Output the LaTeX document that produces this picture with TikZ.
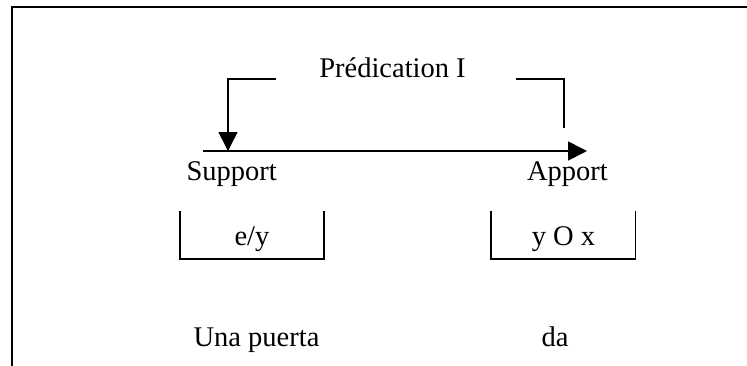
\documentclass[tikz,border=0pt]{standalone}
\usepackage{fontspec}
\setmainfont{Liberation Serif}
\usetikzlibrary{arrows.meta}
\begin{document}
\begin{tikzpicture}[x=1pt,y=-1pt,
  lbl/.style={anchor=base,inner sep=0pt,font=\fontsize{28.5}{34}\selectfont},
  ln/.style={line width=1.6pt},
  arr/.style={ln,-{Triangle[length=19pt,width=19pt]}}]
\useasboundingbox (0,0) rectangle (747,365);
\fill[white] (0,0) rectangle (747,365);
% frame (only top and left sides visible)
\coordinate (fb) at (12,366);
\coordinate (fc) at (12,7);
\coordinate (fr) at (748,7);
\draw[line width=2pt] (fb) -- (fc) -- (fr);
% title
\node[lbl] (pred) at (392.5,77) {Prédication I};
% left bracket with down arrow
\coordinate (la) at (276,79);
\coordinate (lb) at (228,79);
\coordinate (lc) at (228,151);
\draw[arr] (la) -- (lb) -- (lc);
% right bracket
\coordinate (ra) at (516,79);
\coordinate (rb) at (564,79);
\coordinate (rc) at (564,128);
\draw[ln] (ra) -- (rb) -- (rc);
% main arrow
\coordinate (ms) at (203,151);
\coordinate (me) at (587,151);
\draw[arr] (ms) -- (me);
% labels
\node[lbl] (sup) at (231.7,180) {Support};
\node[lbl] (app) at (567.5,180) {Apport};
% open boxes
\coordinate (b1a) at (180,211);
\coordinate (b1b) at (180,259);
\coordinate (b1c) at (324,259);
\coordinate (b1d) at (324,211);
\draw[ln] (b1a) -- (b1b) -- (b1c) -- (b1d);
\coordinate (b2a) at (491,211);
\coordinate (b2b) at (491,259);
\coordinate (b2c) at (635.5,259);
\coordinate (b2d) at (635.5,211);
\draw[ln] (b2a) -- (b2b) -- (b2c) -- (b2d);
\node[lbl] (ey) at (252,245) {e/y};
\node[lbl] (yox) at (563.5,245) {y O x};
% bottom words
\node[lbl] (una) at (256.5,346.7) {Una puerta};
\node[lbl] (da) at (555,346.7) {da};
\end{tikzpicture}
\end{document}
